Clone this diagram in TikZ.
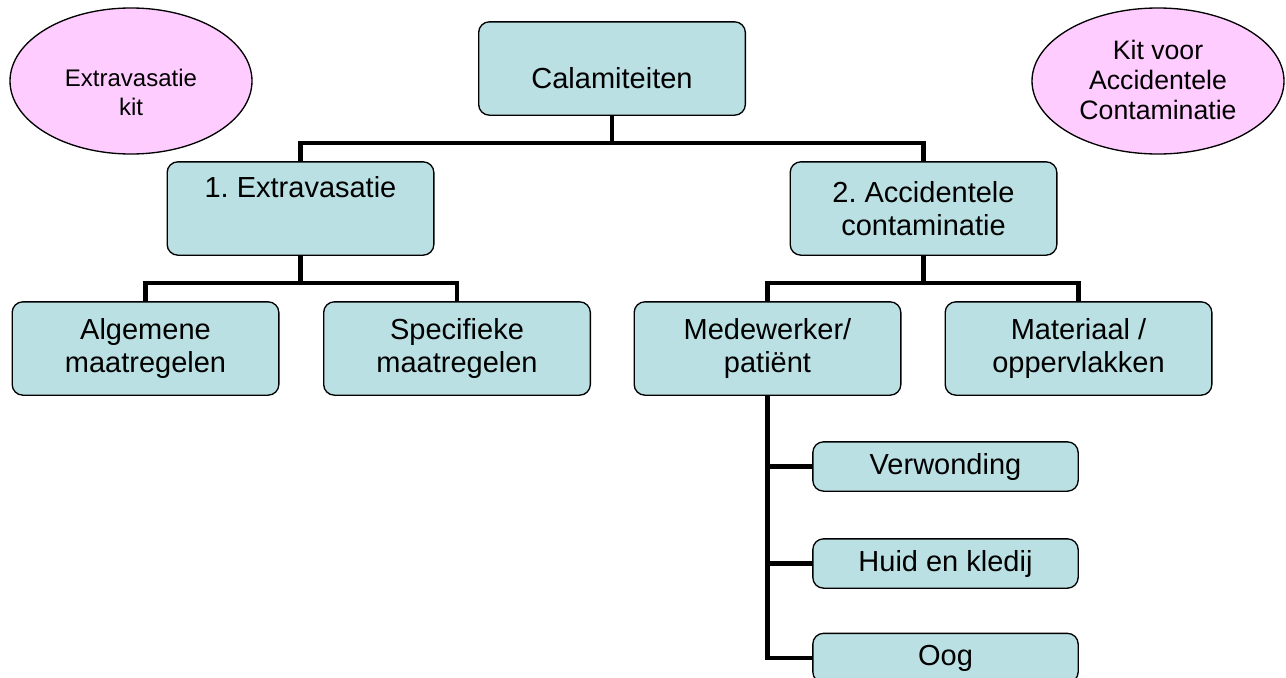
\documentclass[tikz,border=0pt]{standalone}
\usepackage{fontspec}
\setmainfont{Liberation Sans}
\usetikzlibrary{shapes.geometric}
\definecolor{boxfill}{RGB}{186,224,227}
\definecolor{kitfill}{RGB}{255,204,255}
\newcommand\shiftdown[2]{\raisebox{-#1}[\height][\depth]{#2}}
\frenchspacing

\begin{document}
\begin{tikzpicture}[x=0.75pt, y=-0.75pt,
    box/.style={draw=black, line width=1pt, fill=boxfill, rounded corners=8pt,
        align=center, inner sep=0pt, minimum width=200pt, minimum height=70pt,
        font=\fontsize{21.75}{25}\selectfont},
    smallbox/.style={box, minimum width=199pt, minimum height=37pt},
    kit/.style={ellipse, draw=black, line width=1pt, fill=kitfill, align=center,
        inner sep=0pt, minimum height=109.5pt},
    conn/.style={line width=3.5pt}]
    \useasboundingbox (0,0) rectangle (1286,678);

    % Top of the tree
    \node[box] (cal) at (612, 68.5) {\shiftdown{7pt}{Calamiteiten}};

    % Kits
    \node[kit, minimum width=181.5pt, font=\fontsize{18}{21.75}\selectfont] (kitE) at (131, 81)
        {\shiftdown{11pt}{\begin{tabular}{@{}c@{}}Extravasatie\\kit\end{tabular}}};
    \node[kit, minimum width=189pt, font=\fontsize{20}{22.5}\selectfont] (kitA) at (1158, 81)
        {\shiftdown{2pt}{\begin{tabular}{@{}c@{}}Kit voor\\Accidentele\\Contaminatie\end{tabular}}};

    % First level
    \node[box] (extra) at (300.5, 208.5) {1. Extravasatie\\\strut};
    \node[box] (acc) at (923.5, 208.5) {2. Accidentele\\contaminatie};

    % Second level
    \node[box] (alg) at (145.5, 348.5) {Algemene\\maatregelen};
    \node[box] (spec) at (457, 348.5) {Specifieke\\maatregelen};
    \node[box] (med) at (767.5, 348.5) {Medewerker/\\pati\"ent};
    \node[box] (mat) at (1078.5, 348.5) {Materiaal /\\oppervlakken};

    % Under Medewerker/patient
    \node[smallbox] (verw) at (945.5, 466.5) {Verwonding};
    \node[smallbox] (huid) at (945.5, 563.5) {Huid en kledij};
    \node[smallbox] (oog) at (945.5, 658) {Oog};

    % Connectors
    \draw[conn] (cal.south) -- +(0,27) -| (extra.north);
    \draw[conn] (cal.south) -- +(0,27) -| (acc.north);
    \draw[conn] (extra.south) -- +(0,27) -| (alg.north);
    \draw[conn] (extra.south) -- +(0,27) -| (spec.north);
    \draw[conn] (acc.south) -- +(0,27) -| (med.north);
    \draw[conn] (acc.south) -- +(0,27) -| (mat.north);
    \draw[conn] (med.south) |- (verw.west);
    \draw[conn] (med.south) |- (huid.west);
    \draw[conn] (med.south) |- (oog.west);
\end{tikzpicture}
\end{document}
